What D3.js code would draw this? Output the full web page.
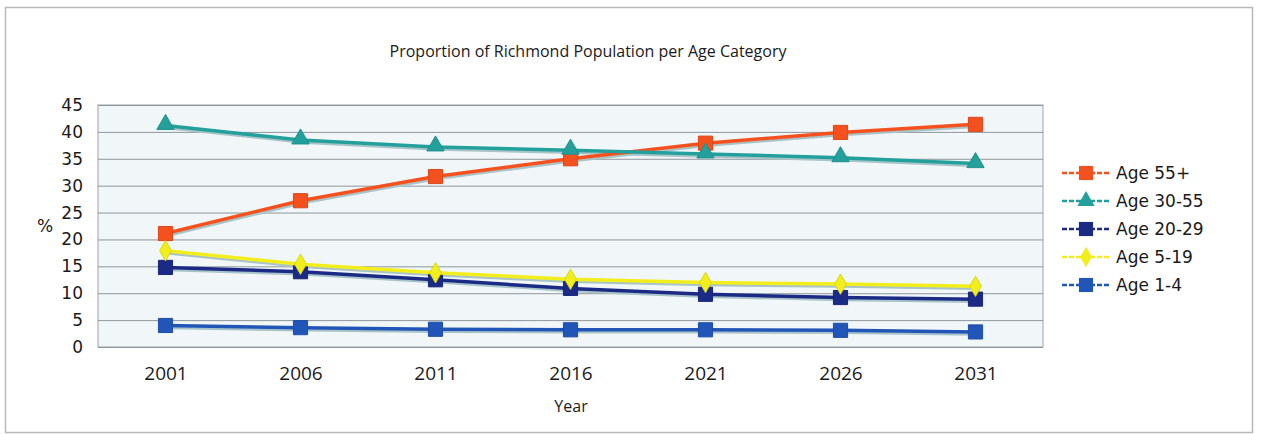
<!DOCTYPE html>
<html>
<head>
<meta charset="utf-8">
<script src="https://cdn.jsdelivr.net/npm/d3@7"></script>
<style>
  body { margin: 0; background: #fff; }
  svg { display: block; }
</style>
</head>
<body>
<div id="chart"></div>
<script>
// data
const years = ['2001', '2006', '2011', '2016', '2021', '2026', '2031'];
const age55plus = [21.1, 27.2, 31.7, 35.0, 37.9, 39.9, 41.4];
const age30to55 = [41.2, 38.5, 37.2, 36.6, 35.9, 35.2, 34.1];
const age20to29 = [14.8, 14.0, 12.5, 10.9, 9.8, 9.2, 8.9];
const age5to19 = [17.9, 15.4, 13.8, 12.6, 12.0, 11.7, 11.3];
const age1to4 = [4.0, 3.6, 3.3, 3.2, 3.2, 3.1, 2.8];
const yTicks = [0, 5, 10, 15, 20, 25, 30, 35, 40, 45];

const series = [
  { name: 'Age 55+', values: age55plus, color: '#f4511e', marker: 'square' },
  { name: 'Age 30-55', values: age30to55, color: '#23a09c', marker: 'triangle' },
  { name: 'Age 20-29', values: age20to29, color: '#1b2a85', marker: 'square' },
  { name: 'Age 5-19', values: age5to19, color: '#f2ee1c', marker: 'diamond' },
  { name: 'Age 1-4', values: age1to4, color: '#2156b8', marker: 'square' }
];

// dimensions
const W = 1261;
const H = 434;
const MARGIN_TOP = 105;
const MARGIN_LEFT = 98;
const PLOT_W = 945;
const PLOT_H = 242;

const svg = d3.select('#chart').append('svg')
  .attr('width', W)
  .attr('height', H);

// outer frame
svg.append('rect')
  .attr('x', 5.5).attr('y', 7.5)
  .attr('width', 1247).attr('height', 425)
  .attr('fill', '#fff')
  .attr('stroke', '#b8b8b8')
  .attr('stroke-width', 1.5);

svg.append('text')
  .attr('x', 588).attr('y', 57)
  .attr('text-anchor', 'middle')
  .style('font-family', '"Open Sans", sans-serif')
  .style('font-size', '16px')
  .attr('fill', '#1a1a1a')
  .text('Proportion of Richmond Population per Age Category');

// scales
const x = d3.scalePoint().domain(years).range([0, PLOT_W]).padding(0.5);
const y = d3.scaleLinear().domain([0, 45]).range([PLOT_H, 0]);

const g = svg.append('g').attr('transform', `translate(${MARGIN_LEFT},${MARGIN_TOP})`);

g.append('rect')
  .attr('width', PLOT_W).attr('height', PLOT_H)
  .attr('fill', '#f1f6f9')
  .attr('stroke', '#9aa4a8');

// gridlines
g.append('g')
  .call(d3.axisLeft(y).tickValues(yTicks).tickSize(-PLOT_W).tickFormat(''))
  .call(a => a.select('.domain').remove())
  .call(a => a.selectAll('line').attr('stroke', '#8e979b').attr('stroke-width', 1));

// y axis labels
g.append('g')
  .call(d3.axisLeft(y).tickValues(yTicks).tickSize(0).tickPadding(15))
  .call(a => a.select('.domain').remove())
  .call(a => a.selectAll('text')
    .style('font-family', '"DejaVu Sans", Verdana, sans-serif')
    .style('font-size', '17px')
    .attr('fill', '#1a1a1a'));

// x axis labels
g.append('g')
  .attr('transform', `translate(0,${PLOT_H})`)
  .call(d3.axisBottom(x).tickSize(0).tickPadding(20))
  .call(a => a.select('.domain').remove())
  .call(a => a.selectAll('text')
    .style('font-family', '"Open Sans", sans-serif')
    .style('font-size', '19px')
    .attr('fill', '#1a1a1a'));

svg.append('text')
  .attr('x', 571).attr('y', 412)
  .attr('text-anchor', 'middle')
  .style('font-family', '"Open Sans", sans-serif')
  .style('font-size', '16px')
  .attr('fill', '#1a1a1a')
  .text('Year');

svg.append('text')
  .attr('x', 45).attr('y', 232)
  .attr('text-anchor', 'middle')
  .style('font-family', '"DejaVu Sans", Verdana, sans-serif')
  .style('font-size', '17px')
  .attr('fill', '#1a1a1a')
  .text('%');

const symbolFor = {
  square: d3.symbol().type(d3.symbolSquare).size(200),
  triangle: d3.symbol().type(d3.symbolTriangle).size(130),
  diamond: d3.symbol().type(d3.symbolDiamond).size(120)
};

const line = d3.line()
  .x((d, i) => x(years[i]))
  .y(d => y(d));

// shadows first, then lines and markers
series.forEach(s => {
  g.append('path')
    .datum(s.values)
    .attr('d', line)
    .attr('transform', 'translate(1,2.5)')
    .attr('fill', 'none')
    .attr('stroke', '#a9c4c8')
    .attr('stroke-width', 2.5);
});

series.forEach(s => {
  g.append('path')
    .datum(s.values)
    .attr('d', line)
    .attr('fill', 'none')
    .attr('stroke', s.color)
    .attr('stroke-width', 3.5);

  g.selectAll(null)
    .data(s.values)
    .join('path')
    .attr('transform', (d, i) => `translate(${x(years[i])},${y(d) + (s.marker === 'triangle' ? -1 : 0)})`)
    .attr('d', symbolFor[s.marker])
    .attr('fill', s.color)
    .attr('stroke', d3.color(s.color).darker(0.3))
    .attr('stroke-width', 1);
});

// legend
const legend = svg.append('g').attr('transform', 'translate(1062,173)');
const row = legend.selectAll('g')
  .data(series)
  .join('g')
  .attr('transform', (d, i) => `translate(0,${i * 28})`);

row.append('line')
  .attr('x1', 0).attr('x2', 48)
  .attr('stroke', d => d.color)
  .attr('stroke-width', 2.5)
  .attr('stroke-dasharray', '5,2');

row.append('path')
  .attr('transform', 'translate(24,0)')
  .attr('d', d => symbolFor[d.marker](d))
  .attr('fill', d => d.color);

row.append('text')
  .attr('x', 54).attr('y', 6)
  .style('font-family', '"DejaVu Sans", Verdana, sans-serif')
  .style('font-size', '17px')
  .attr('fill', '#1a1a1a')
  .text(d => d.name);
</script>
</body>
</html>
